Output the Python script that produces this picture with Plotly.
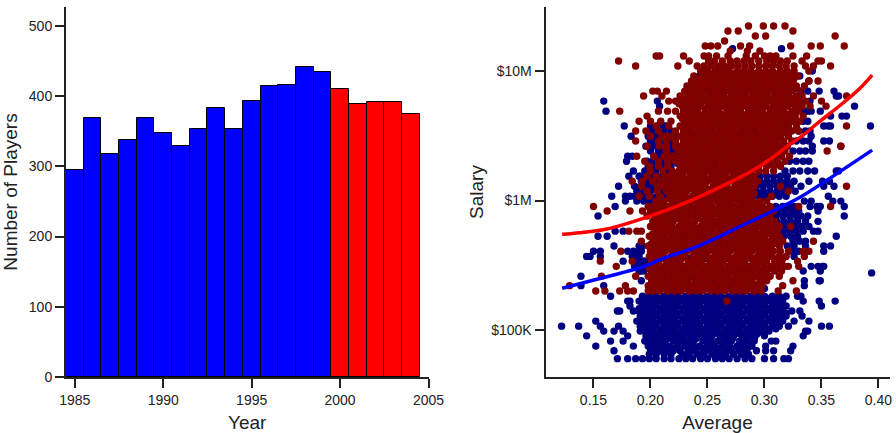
import plotly.graph_objects as go

# Left panel: players per year
years = list(range(1985, 2005))
players = [295, 369, 318, 338, 369, 347, 329, 353, 383, 353, 393, 414, 416, 442, 435, 410, 389, 392, 392, 375]
bar_colors = ["#0000ff"] * 15 + ["#ff0000"] * 5

# Right panel: fitted curves (average, salary in $K)
red_fit_avg = [.1225, .1383, .1585, .1734, .202, .2321, .261, .29, .3075, .319, .3339, .348, .369, .3822, .3945]
red_fit_sal = [548, 564, 595, 640, 770, 970, 1268, 1714, 2160, 2582, 3199, 4050, 5665, 7128, 9312]
blue_fit_avg = [.1225, .1497, .1734, .197, .2085, .2436, .2786, .305, .3312, .3655, .3945]
blue_fit_sal = [210, 242, 274, 316, 350, 451, 630, 812, 1060, 1656, 2449]

# Right panel: players (salary in $K, batting average in points)
red_rows = [
(22290,[286,299,318,308]),(20390,[325,268,277]),(18650,[292,301,362]),(17060,[265]),
(15610,[253,248,279,287,323,341,349,370,259]),(14280,[296,270,285]),
(13060,[284,258,247,229,310,325,337,251,208,205,292,300,305,268]),
(11950,[234,172,251,350,347,256,263,270,276,282,288,295,302,308,314,320,333]),
(10930,[241,224,187,358,336,247,253,259,265,271,277,283,289,295,301,307,313,319,326,343]),
(10000,[244,250,257,263,269,276,282,288,295,301,307,314,320,326,339]),
(9150,[238,246,253,259,265,272,278,284,291,297,303,310,316,322,329]),
(8370,[236,243,249,255,262,268,274,281,287,293,300,306,312,319,325,339,347]),
(7660,[232,238,245,251,258,264,270,277,283,289,296,302,308,315,321,328,335]),
(7000,[202,206,214,230,236,242,248,255,261,267,274,280,286,293,299,305,312,318,324,331]),
(6410,[194,210,226,233,239,245,252,258,264,271,277,283,290,296,302,309,315,321,328,333,343,372]),
(5860,[216,222,228,235,241,248,254,260,267,273,279,286,292,298,305,311,317,324,330,336,350]),
(5360,[228,232,238,244,251,257,263,270,276,282,289,295,301,308,314,320,327,333,340,354]),
(4900,[173,207,215,222,229,235,241,248,254,260,267,273,279,286,292,298,305,311,317,324,330]),
(4490,[197,226,232,239,245,251,258,264,270,277,283,289,296,302,308,315,321,327,334]),
(4100,[190,200,209,218,230,236,242,249,255,261,268,274,280,287,293,299,306,312,318,325,331]),
(3760,[205,216,226,233,239,245,252,258,264,271,277,283,290,296,302,309,315,321,328,372]),
(3440,[187,196,207,222,229,235,242,248,254,261,267,273,280,286,292,299,305,311,318,324,330]),
(3140,[200,210,219,214,226,232,238,245,251,257,264,270,276,283,289,295,302,308,314,321]),
(2880,[187,207,214,222,229,235,241,248,254,260,267,273,279,286,292,298,305,311,317,324]),
(2630,[197,208,214,222,226,232,238,245,251,257,264,270,276,283,289,295,302,308,314,320,367]),
(2410,[214,224,230,236,242,249,255,261,268,274,280,287,293,299,306,312,318,355]),
(2200,[188,203,212,220,218,226,233,239,245,252,258,264,271,277,283,290,296,302,309,315,322]),
(2010,[195,207,215,222,229,235,242,248,254,261,267,273,280,286,292,299,305,311,318]),
(1840,[199,207,215,226,232,238,245,251,257,264,270,276,283,289,295,302,308,314]),
(1690,[200,211,219,225,231,238,244,250,257,263,269,276,282,288,295,301,308]),
(1540,[197,205,212,216,222,228,235,241,247,254,260,266,273,279,285,291]),
(1410,[184,193,202,209,218,225,231,237,244,250,256,263,269,275,282,288,294]),
(1290,[192,206,210,217,223,229,236,242,248,255,261,267,274,280,286,291,314,372]),
(1180,[197,206,214,220,226,232,239,245,251,258,264,270,277,283,289,321]),
(1080,[190,199,208,218,224,230,237,243,249,256,262,268,275,281,287,306]),
(990,[205,212,220,226,233,239,245,252,258,264,271,277,283,290,296,302]),
(900,[150,198,202,211,216,222,229,235,241,248,254,260,267,273,279,286,292,298,305,330,358]),
(830,[162,182,193,200,207,213,220,226,232,239,245,251,258,264,270,277,283,289,296,302,308]),
(760,[197,204,210,216,223,229,235,242,248,254,261,267,273,280,286,292,299,305]),
(690,[202,208,214,220,227,233,239,246,252,258,265,271,277,284,290,296,303,309]),
(630,[200,206,212,219,225,231,238,244,250,257,263,269,276,282,288,295,301,307,313,323]),
(580,[181,188,192,204,210,216,223,229,235,242,248,254,261,267,273,280,286,292,299,305,311]),
(530,[199,205,212,218,224,231,237,243,250,256,262,269,275,281,288,294,300,307,313]),
(485,[192,203,209,215,222,228,234,241,247,253,260,266,272,279,285,291,298,304,310,316,343]),
(445,[198,205,211,217,224,230,236,243,249,255,262,268,274,281,287,293,300,306,313]),
(405,[174,200,207,213,219,226,232,238,245,251,257,264,270,276,283,289,295,302,308,314,321,334,339]),
(370,[199,205,211,218,224,230,237,243,249,256,262,268,275,281,287,294,300,306,313,319,335]),
(340,[156,184,201,207,214,220,226,233,239,245,252,258,264,271,277,283,290,296,302,309,315,329]),
(310,[170,198,205,211,217,224,230,236,243,249,255,262,268,274,281,287,293,300,306,312,318,321,330]),
(285,[201,207,214,220,226,233,239,245,252,258,264,271,277,283,290,296,302,309,315]),
(260,[157,187,198,204,211,217,223,230,236,242,249,255,261,268,274,280,287,293,299,305,313]),
(240,[201,207,213,220,226,232,239,245,251,258,264,270,277,283,289,296,302,325]),
(220,[129,178,198,204,211,217,223,230,236,242,249,255,261,268,274,280,287,293,298,316]),
(200,[152,160,173,180,185,198,202,208,215,221,227,234,240,246,253,259,265,272,278,284,291,297,312,328]),
(167,[267]),
# between the rows above
(9560,[247,253,260,266,272,279,285,291,298,304,310,317,323]),
(8750,[241,250,256,262,269,275,281,288,294,300,307,313,319,326]),
(8010,[240,246,252,259,265,271,278,284,290,297,303,309,316,322]),
(7320,[235,241,248,254,260,267,273,279,286,292,298,305,311,317,324]),
(6700,[233,239,245,252,258,264,271,277,283,290,296,302,309,315,321]),
(6130,[229,236,242,248,255,261,267,274,280,286,293,299,305,312,318,325]),
(5600,[225,232,238,244,251,257,263,270,276,282,289,295,301,308,314,320,327]),
(5130,[231,235,241,248,254,260,267,273,279,286,292,298,305,311,317]),
(4690,[229,235,242,248,254,261,267,273,280,286,292,299,305,311,318,324]),
(4290,[228,234,240,247,253,259,266,272,278,285,291,297,304,310,316,323]),
(3930,[230,236,243,249,255,262,268,274,281,287,293,300,306,312,319]),
(3590,[229,235,242,248,254,261,267,273,280,286,292,299,305,311,318]),
(3290,[233,239,245,252,258,264,271,277,283,290,296,302,309,315]),
(3010,[229,235,242,248,254,261,267,273,280,286,292,299,305,311]),
(2750,[231,238,244,250,257,263,269,276,282,288,295,301,307]),
(2520,[228,234,240,247,253,259,266,272,278,285,291,297,304,310]),
(2300,[229,235,242,248,254,261,267,273,280,286,292,299,305]),
(2100,[232,238,245,251,257,264,270,276,283,289,295,302]),
(1930,[226,232,238,245,251,257,264,270,276,283,289,295,302]),
(1760,[228,235,241,247,254,260,266,273,279,285,292]),
(1610,[222,228,235,247,254,260,273,279,285]),
(1470,[219,225,231,244,250,263,269,282,288]),
(1350,[214,220,233,239,245,258,264,277,283,289]),
(1230,[224,230,236,249,255,268,274,280]),
(1130,[222,228,241,247,254,266,272,285,291]),
(1035,[209,216,229,235,248,254,260,273,279,286]),
(945,[206,219,225,231,244,250,263,269,282,288,295]),
(865,[204,210,223,229,242,248,254,267,273,286,292]),
(790,[200,213,219,232,238,251,257,276,282,295,301]),
(725,[205,211,224,230,243,249,262,268,281,287,300]),
(660,[203,209,215,228,234,253,259,272,278,291,297,304]),
(605,[208,214,227,233,246,252,265,271,284,290,303,309]),
(555,[202,208,221,227,240,246,259,265,278,284,297,303]),
(505,[206,212,219,232,238,251,257,270,276,289,295,308]),
(465,[201,214,220,233,239,252,258,271,277,290,296,309]),
(425,[204,210,223,229,242,248,261,267,280,286,299,305]),
(388,[203,209,222,228,241,247,260,266,279,285,298,304]),
(355,[202,208,221,227,240,253,259,272,278,291,297,310,316]),
(325,[204,217,223,236,242,255,261,274,280,293,299,312]),
(297,[199,212,218,231,237,250,256,269,275,288,294,307]),
(272,[203,209,222,228,241,247,260,266,279,285,298]),
(249,[205,211,224,230,243,249,262,268,281,287]),
(228,[201,207,214,220,226,233,239,245,252,258,264,271,277,283,290]),
(209,[200,205,212,218,224,231,237,243,250,256,262,269,275,281,288,294]),
]

blue_rows = [
(14900,[272,315]),(10000,[342]),(9150,[243,331]),(8370,[339]),(7000,[332,338,348,361]),(6410,[365,363]),
(5860,[159,206,335,340]),(5360,[208,379]),(4900,[161,336,338,341,349]),(4490,[358,368,372]),
(4100,[334,338]),
(3760,[177,200,206,210,212,214,352,356,358,393]),
(3440,[200,204,212,218,330,336,340]),(3140,[183,198,205,210,218,223,341]),(2880,[200,205,212,219,328,334,339,352,357]),
(2630,[196,202,210,216,342,367]),(2410,[200,207,212,219,325,331,336,342]),(2200,[180,184,203,209,215,221]),
(2010,[179,197,202,205,212,219,322,328,334,339]),(1840,[198,204,208,211,218]),
(1690,[185,195,205,214,318,325,331,338,344,363,365]),
(1540,[181,190,191,197,203,210,296,302,308,314,320]),
(1410,[192,196,200,204,211,296,302,308,314,320,326,339,351,357]),
(1290,[172,186,196,201,214,293,299,305,311,317,323,332,352,361]),
(1180,[188,194,200,207,213,293,299,305,311,317,327]),
(1080,[166,178,182,186,194,200,206,208,212,295,301,307,313,319,356]),
(990,[178,188,194,199,205,335,341,360,367]),
(900,[169,310,316,322,326,340,346,349,370]),
(830,[305,312,318,324,330,347]),
(760,[154,310,316,322,328,332,338,370]),
(690,[311,317,323,329,336,347]),
(630,[315,321,327,333,339]),
(580,[169,176,316,322,328,334,343,347]),
(530,[154,162,317,323,329,363]),
(485,[325,331,336]),
(445,[168,190,193,320,326,336,352,358]),
(405,[150,156,180,185,190,192,324,330,352]),
(370,[144,147,156,184,188,190,326]),
(340,[176,186,190,194,195]),
(310,[186,192,341,347,351,352]),
(285,[190,191,194,334,349]),
(260,[139]),
(276,[394]),
(240,[192,335,348,349]),
(220,[139,159,335]),
(182,[165,193,199,205,212,218,224,231,237,243,250,256,262,269,275,281,288,294,300,307,313,319,329,332]),
(167,[180,182,190,196,202,209,215,221,228,234,240,247,253,259,266,272,278,285,291,297,304,310,316,334,348,362]),
(153,[182,193,199,205,212,218,224,231,237,243,250,256,262,269,275,281,288,294,300,307,313,319,350]),
(140,[171,173,185,190,196,202,209,215,221,228,234,240,247,253,259,266,272,278,285,291,297,304,310,316,324,331]),
(128,[191,199,205,212,218,224,231,237,243,250,256,262,269,275,281,288,294,300,307,313,319,333]),
(117,[152,188,190,196,202,209,215,221,228,234,240,247,253,259,266,272,278,285,291,297,304,310,316,326,339]),
(107,[122,137,156,172,191,199,205,212,218,224,231,237,243,250,256,262,269,275,281,288,294,300,307,313,321,350,357]),
(98,[159,168,176,191,196,202,209,215,221,228,234,240,247,253,259,266,272,278,285,291,297,304,336,338]),
(90,[144,180,196,203,209,216,222,229,235,241,248,254,261,267,273,280,286,292,300,334]),
(82,[165,176,195,200,207,213,220,226,233,238,246,252,259,265,271,278,284,291,306,310]),
(75,[152,185,198,205,211,217,224,230,237,243,250,256,263,269,276,282,289,301,325]),
(69,[168,200,207,214,220,226,233,239,246,252,258,265,271,278,284,293,301,308,323]),
(60,[171,180,187,193,199,205,212,218,225,231,237,244,250,257,263,269,276,283,289,300,308,317,321]),
# between the rows above
(175,[196,202,209,215,221,228,234,240,247,253,259,266,272,278,285,291,297,304,310,316]),
(160,[193,199,205,212,218,224,231,237,243,250,256,262,269,275,281,288,294,300,307,313]),
(146,[190,196,202,209,215,221,228,234,240,247,253,259,266,272,278,285,291,297,304,310,316]),
(134,[193,199,205,212,218,224,231,237,243,250,256,262,269,275,281,288,294,300,307,313,319]),
(122,[196,202,209,215,221,228,234,240,247,253,259,266,272,278,285,291,297,304,310,316]),
(112,[193,199,205,212,218,224,231,237,243,250,256,262,269,275,281,288,294,300,307,313]),
(102,[196,202,209,215,221,228,234,240,247,253,259,266,272,278,285,291,297,304,310]),
(94,[199,205,212,218,224,231,237,243,250,256,262,269,275,281,288,294,300]),
(86,[202,209,215,221,228,240,247,253,266,272,285,291]),
(78,[199,205,212,224,231,237,250,256,269,281,288]),
(72,[202,209,215,221,234,240,247,259,266,272,285]),
(65,[199,205,212,218,228,234,241,247,254,260,266,273,280,286]),
# under the red mass
(7320,[238,246,254,262,270,278,286,294,302,310,318,326]),
(5600,[236,244,252,260,268,276,284,292,300,308,316,324,332]),
(4290,[236,244,252,260,268,276,284,292,300,308,316,324]),
(3290,[232,240,248,256,264,272,280,288,296,304,312,320]),
(2520,[232,240,248,256,264,272,280,288,296,304,312]),
(1930,[224,232,240,248,256,264,272,280,288,296,304,312]),
(1470,[205,212,219,226,233,240,247,254,261,268,275,282,289]),
(1230,[205,212,219,226,233,240,247,254,261,268,275,282,289]),
(1035,[205,212,219,226,233,240,247,254,261,268,275,282,289,300]),
(865,[205,212,219,226,233,240,247,254,261,268,275,282,289,300]),
(725,[205,212,219,226,233,240,247,254,261,268,275,282,289,300]),
(605,[205,212,219,226,233,240,247,254,261,268,275,282,289,300]),
(505,[205,212,219,226,233,240,247,254,261,268,275,282,289,300]),
(425,[205,212,219,226,233,240,247,254,261,268,275,282,289,300]),
(355,[205,212,219,226,233,240,247,254,261,268,275,282,289,300]),
(297,[205,212,219,226,233,240,247,254,261,268,275,282,289,300]),
(249,[205,212,219,226,233,240,247,254,261,268,275,282,289,300]),
(209,[205,212,219,226,233,240,247,254,261,268,275,282,289,300]),
]

blue_avg = [p / 1000 for s, row in blue_rows for p in row]
blue_sal = [s for s, row in blue_rows for p in row]
red_avg = [p / 1000 for s, row in red_rows for p in row]
red_sal = [s for s, row in red_rows for p in row]

FONT = "Liberation Sans, Arial, sans-serif"
INK = "#222222"
fig = go.Figure()
fig.add_bar(x=years, y=players, width=1, marker=dict(color=bar_colors, line=dict(color="black", width=1)),
            xaxis="x", yaxis="y", showlegend=False)
fig.add_scatter(x=blue_avg, y=blue_sal, mode="markers", marker=dict(color="#000080", size=7.4),
                xaxis="x2", yaxis="y2", showlegend=False)
fig.add_scatter(x=red_avg, y=red_sal, mode="markers", marker=dict(color="#800000", size=7.4),
                xaxis="x2", yaxis="y2", showlegend=False)
fig.add_scatter(x=red_fit_avg, y=red_fit_sal, mode="lines", line=dict(color="#ff0000", width=3.5, shape="spline"),
                xaxis="x2", yaxis="y2", showlegend=False)
fig.add_scatter(x=blue_fit_avg, y=blue_fit_sal, mode="lines", line=dict(color="#0000ff", width=3.5, shape="spline"),
                xaxis="x2", yaxis="y2", showlegend=False)

axis = dict(showgrid=False, zeroline=False, showline=True, linecolor="#222222", linewidth=2,
            ticks="outside", ticklen=9, tickwidth=2, tickcolor="#222222", automargin=False,
            tickfont=dict(family=FONT, size=14, color=INK))
title_font = dict(family=FONT, size=19, color=INK)
W, H = 896, 433
fig.update_layout(
    width=W, height=H, autosize=False, margin=dict(l=0, r=0, t=0, b=0),
    paper_bgcolor="white", plot_bgcolor="white", bargap=0,
    xaxis=dict(axis, domain=[66 / W, 428.5 / W], range=[1984.5, 2005], tickvals=[1985, 1990, 1995, 2000, 2005],
               title=dict(text="Year", font=title_font, standoff=10), anchor="y"),
    yaxis=dict(axis, domain=[1 - 377 / H, 1 - 7 / H], range=[0, 527], tickvals=[0, 100, 200, 300, 400, 500],
               title=dict(text="Number of Players", font=title_font, standoff=11), anchor="x"),
    xaxis2=dict(axis, domain=[545.5 / W, 889.5 / W], range=[.1079, .4097],
                tickvals=[.15, .2, .25, .3, .35, .4], ticktext=["0.15", "0.20", "0.25", "0.30", "0.35", "0.40"],
                title=dict(text="Average", font=title_font, standoff=10), anchor="y2"),
    yaxis2=dict(axis, domain=[1 - 377 / H, 1 - 7 / H], type="log", range=[1.6365, 4.495],
                tickvals=[100, 1000, 10000], ticktext=["$100K", "$1M", "$10M"],
                title=dict(text="Salary", font=title_font, standoff=3), anchor="x2"),
)
fig.write_html("out.html", config={"displayModeBar": False},
               post_script="document.body.style.margin='0';document.body.style.overflow='hidden';")
